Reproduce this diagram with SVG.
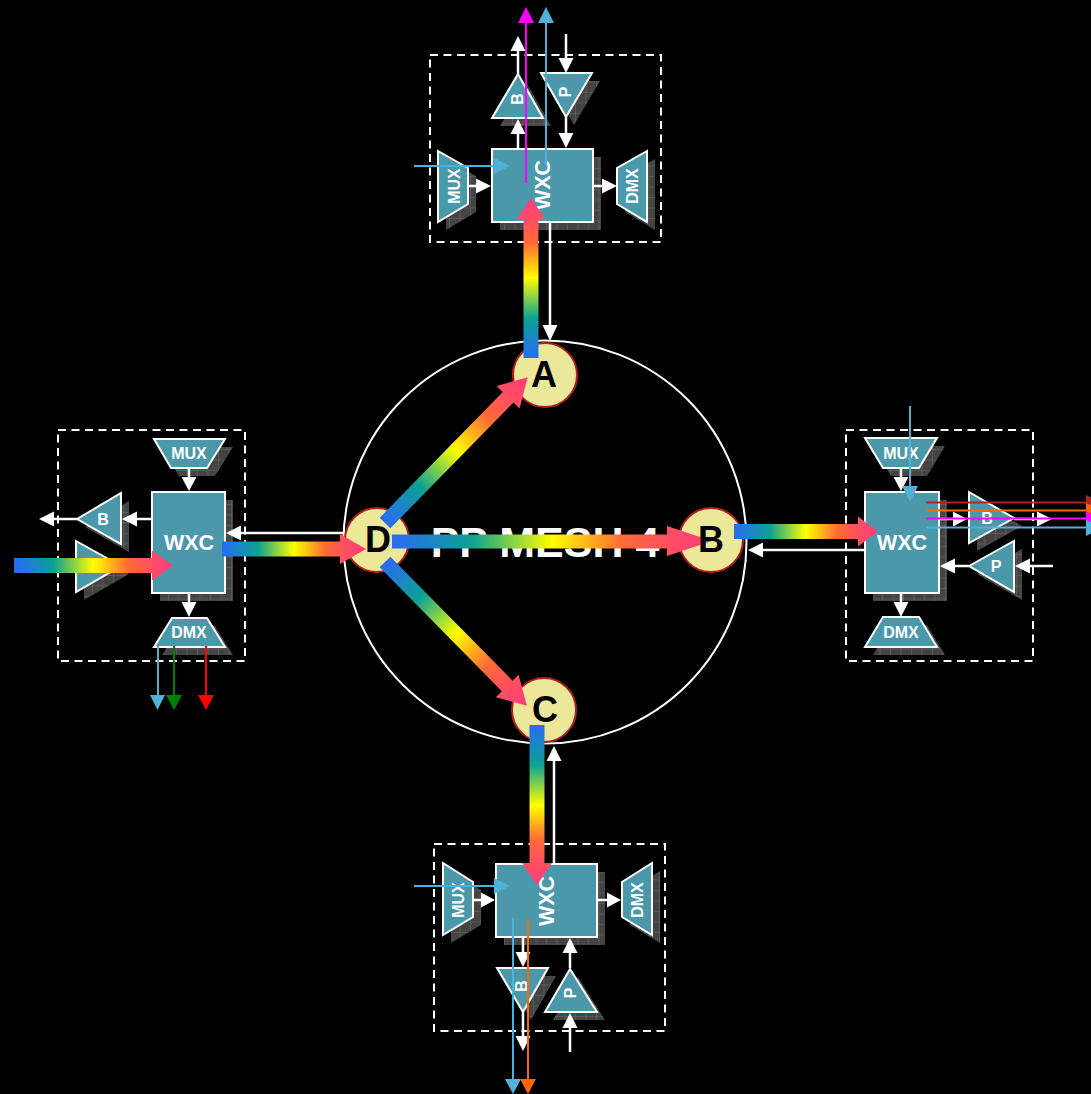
<svg xmlns="http://www.w3.org/2000/svg" width="1091" height="1094" viewBox="0 0 1091 1094">
<style>
text{font-family:"Liberation Sans",Arial,sans-serif;font-weight:bold;text-anchor:middle}
.box{fill:none;stroke:#fff;stroke-width:2;stroke-dasharray:8 5.5}
.sh{fill:url(#grid)}
.s{fill:#4b98ab;stroke:#fff;stroke-width:2;stroke-linejoin:miter}
.t{fill:#fff;font-size:16px}
.w{fill:#fff;font-size:21.5px}
.l{fill:#000;font-size:36px}
.wl{stroke:#fff;stroke-width:2.5;fill:none}
.wh{fill:#fff}
.cl{stroke-width:2;fill:none}
.r{fill:url(#rb)}
.n{fill:#ece89a;stroke:#b02020;stroke-width:2}
</style>
<defs>
<pattern id="grid" width="10.5" height="10.5" patternUnits="userSpaceOnUse">
<rect width="10.5" height="10.5" fill="#444"/>
<path d="M0 0H10.5M0 0V10.5" stroke="#6e6e6e" stroke-width="1"/>
</pattern>
<linearGradient id="rb" x1="0" y1="0" x2="1" y2="0">
<stop offset="0" stop-color="#2a6af5"/>
<stop offset=".25" stop-color="#0ca292"/>
<stop offset=".5" stop-color="#ffff00"/>
<stop offset=".72" stop-color="#ff6a36"/>
<stop offset=".86" stop-color="#ff5060"/>
<stop offset="1" stop-color="#ff3a80"/>
</linearGradient>
</defs>
<rect width="1091" height="1094" fill="#000"/>
<circle id="ring" cx="545" cy="542" r="201.500" fill="none" stroke="#fff" stroke-width="2"/>
<text id="title" x="545" y="557" fill="#fff" style="font-size:43px">PP MESH 4</text>

<g id="node-top">
<rect class="box" x="430" y="55" width="231" height="187"/>
<polygon class="sh" transform="translate(8,8)" points="438,151 468,168 468,204 438,222"/>
<polygon class="sh" transform="translate(8,8)" points="647,151 617,168 617,204 647,222"/>
<polygon class="sh" transform="translate(8,8)" points="518,74 492,118 543,118"/>
<polygon class="sh" transform="translate(8,8)" points="541,73 592,73 566,117"/>
<rect class="sh" x="500" y="157" width="101" height="73"/>
<rect class="s" x="492" y="149" width="101" height="73"/>
<polygon class="s" points="438,151 468,168 468,204 438,222"/>
<polygon class="s" points="647,151 617,168 617,204 647,222"/>
<polygon class="s" points="518,74 492,118 543,118"/>
<polygon class="s" points="541,73 592,73 566,117"/>
<text class="w" transform="translate(542,185) rotate(-90)" dy=".36em">WXC</text>
<text class="t" transform="translate(454,186) rotate(-90)" dy=".36em">MUX</text>
<text class="t" transform="translate(632,186) rotate(-90)" dy=".36em">DMX</text>
<text class="t" transform="translate(517,99) rotate(-90)" dy=".36em">B</text>
<text class="t" transform="translate(565,92) rotate(-90)" dy=".36em">P</text>
</g>

<g id="node-left">
<rect class="box" x="58" y="430" width="187" height="231"/>
<polygon class="sh" transform="translate(8,8)" points="154,439 225,439 207,468 171,468"/>
<polygon class="sh" transform="translate(8,8)" points="172,618 207,618 225,647 154,647"/>
<polygon class="sh" transform="translate(8,8)" points="77,519 121,493 121,544"/>
<polygon class="sh" transform="translate(8,8)" points="76,541 121,566 76,592"/>
<rect class="sh" x="160" y="500" width="73" height="101"/>
<rect class="s" x="152" y="492" width="73" height="101"/>
<polygon class="s" points="154,439 225,439 207,468 171,468"/>
<polygon class="s" points="172,618 207,618 225,647 154,647"/>
<polygon class="s" points="77,519 121,493 121,544"/>
<polygon class="s" points="76,541 121,566 76,592"/>
<text class="w" x="189" y="542" dy=".36em">WXC</text>
<text class="t" x="189" y="453" dy=".36em">MUX</text>
<text class="t" x="189" y="632" dy=".36em">DMX</text>
<text class="t" x="103" y="519" dy=".36em">B</text>
</g>

<g id="node-right">
<rect class="box" x="846" y="430" width="187" height="231"/>
<polygon class="sh" transform="translate(8,8)" points="865,438 937,438 919,468 883,468"/>
<polygon class="sh" transform="translate(8,8)" points="883,617 919,617 937,647 865,647"/>
<polygon class="sh" transform="translate(8,8)" points="969,492 1014,518 969,543"/>
<polygon class="sh" transform="translate(8,8)" points="969,566 1014,541 1014,592"/>
<rect class="sh" x="873" y="500" width="74" height="101"/>
<rect class="s" x="865" y="492" width="74" height="101"/>
<polygon class="s" points="865,438 937,438 919,468 883,468"/>
<polygon class="s" points="883,617 919,617 937,647 865,647"/>
<polygon class="s" points="969,492 1014,518 969,543"/>
<polygon class="s" points="969,566 1014,541 1014,592"/>
<text class="w" x="902" y="542" dy=".36em">WXC</text>
<text class="t" x="901" y="453" dy=".36em">MUX</text>
<text class="t" x="901" y="632" dy=".36em">DMX</text>
<text class="t" x="987" y="518" dy=".36em">B</text>
<text class="t" x="996" y="566" dy=".36em">P</text>
</g>

<g id="node-bottom">
<rect class="box" x="434" y="844" width="231" height="187"/>
<polygon class="sh" transform="translate(8,8)" points="443,863 473,882 473,917 443,935"/>
<polygon class="sh" transform="translate(8,8)" points="652,863 622,882 622,917 652,935"/>
<polygon class="sh" transform="translate(8,8)" points="497,968 548,968 523,1012"/>
<polygon class="sh" transform="translate(8,8)" points="570,969 545,1012 597,1012"/>
<rect class="sh" x="504" y="872" width="101" height="73"/>
<rect class="s" x="496" y="864" width="101" height="73"/>
<polygon class="s" points="443,863 473,882 473,917 443,935"/>
<polygon class="s" points="652,863 622,882 622,917 652,935"/>
<polygon class="s" points="497,968 548,968 523,1012"/>
<polygon class="s" points="570,969 545,1012 597,1012"/>
<text class="w" transform="translate(546,901) rotate(-90)" dy=".36em">WXC</text>
<text class="t" transform="translate(458,900) rotate(-90)" dy=".36em">MUX</text>
<text class="t" transform="translate(637,900) rotate(-90)" dy=".36em">DMX</text>
<text class="t" transform="translate(521,986) rotate(-90)" dy=".36em">B</text>
<text class="t" transform="translate(570,993) rotate(-90)" dy=".36em">P</text>
</g>

<g id="node-A"><circle class="n" cx="545" cy="375" r="32"/></g>
<g id="node-B"><circle class="n" cx="711" cy="540" r="32"/></g>
<g id="node-C"><circle class="n" cx="544" cy="710" r="32"/></g>
<g id="node-D"><circle class="n" cx="377" cy="540" r="32"/></g>

<g id="connectors">
<path class="wl" d="M518 149V130M518 74V48M566 34V60M566 117V135M468 186H478M593 186H604M550 222V327"/>
<polygon class="wh" points="518,119 510.500,134 525.500,134"/>
<polygon class="wh" points="518,36 510.500,51 525.500,51"/>
<polygon class="wh" points="566,73 558.500,58 573.500,58"/>
<polygon class="wh" points="566,148 558.500,133 573.500,133"/>
<polygon class="wh" points="491,186 476,178.500 476,193.500"/>
<polygon class="wh" points="617,186 602,178.500 602,193.500"/>
<polygon class="wh" points="550,341 542.500,325 557.500,325"/>
<path class="wl" d="M152 519H135M77 519H52M189 468V480M189 593V605M121 566H152M343 533H240"/>
<polygon class="wh" points="122,519 137,511.500 137,526.500"/>
<polygon class="wh" points="39,519 54,511.500 54,526.500"/>
<polygon class="wh" points="189,491 181.500,477 196.500,477"/>
<polygon class="wh" points="189,617 181.500,602 196.500,602"/>
<polygon class="wh" points="226,533 241,525.500 241,540.500"/>
<path class="wl" d="M901 468V480M901 593V605M939 519H955M1014 519H1040M1053 566H1028M969 566H953M865 550H761"/>
<polygon class="wh" points="901,491 893.500,477 908.500,477"/>
<polygon class="wh" points="901,617 893.500,602 908.500,602"/>
<polygon class="wh" points="967,519 953,511.500 953,526.500"/>
<polygon class="wh" points="1052,519 1037,511.500 1037,526.500"/>
<polygon class="wh" points="1015,566 1030,558.500 1030,573.500"/>
<polygon class="wh" points="940,566 955,558.500 955,573.500"/>
<polygon class="wh" points="748,550 763,542.500 763,557.500"/>
<path class="wl" d="M473 900H483M597 900H609M523 937V954M523 1012V1038M570 968V951M570 1052V1026M554 864V759"/>
<polygon class="wh" points="495,900 481,892.500 481,907.500"/>
<polygon class="wh" points="621,900 607,892.500 607,907.500"/>
<polygon class="wh" points="523,967 515.500,952 530.500,952"/>
<polygon class="wh" points="523,1051 515.500,1036 530.500,1036"/>
<polygon class="wh" points="570,938 562.500,953 577.500,953"/>
<polygon class="wh" points="570,1013 562.500,1028 577.500,1028"/>
<polygon class="wh" points="554,746 546.500,761 561.500,761"/>
<path class="r" transform="translate(531,358) rotate(-90)" d="M0-7.500H138V-15L160 0 138 15V7.500H0Z"/>
<path class="r" transform="translate(537,725) rotate(90)" d="M0-7.500H138V-15L160 0 138 15V7.500H0Z"/>
<path class="r" transform="translate(14,565.500)" d="M0-7.500H138V-15L159 0 138 15V7.500H0Z"/>
<path class="r" transform="translate(222,549)" d="M0-7.500H118V-15L144 0 118 15V7.500H0Z"/>
<path class="r" transform="translate(734,531.500)" d="M0-7.500H124V-15L144 0 124 15V7.500H0Z"/>
<path class="r" d="M392 534.500H667V526L712 541 667 556V548.500H392Z"/>
<path class="r" transform="translate(385,523) rotate(-45.600)" d="M0-7.500H176V-16L204 0 176 16V7.500H0Z"/>
<path class="r" transform="translate(385,562) rotate(45.400)" d="M0-7.500H174V-16L202 0 174 16V7.500H0Z"/>
<g class="cl">
<path stroke="#4fb0d8" d="M414 166H496M546 165V22M414 886H496M513 918V1080M910 406V488M926 527.500H1088M158 646V696"/>
<path stroke="#ff00ff" d="M526 183V22M926 518.500H1088"/>
<path stroke="#ff6600" d="M528 918V1080M926 510.500H1088"/>
<path stroke="#b22222" d="M926 502.500H1088"/>
<path stroke="#008000" d="M174 646V696"/>
<path stroke="#ff0000" d="M206 646V696"/>
</g>
<polygon fill="#4fb0d8" points="510,166 494,158 494,174"/>
<polygon fill="#4fb0d8" points="546,7 538,23 554,23"/>
<polygon fill="#ff00ff" points="526,7 518,23 534,23"/>
<polygon fill="#4fb0d8" points="510,886 494,878 494,894"/>
<polygon fill="#4fb0d8" points="513,1094 505,1079 521,1079"/>
<polygon fill="#ff6600" points="528,1094 520,1079 536,1079"/>
<polygon fill="#4fb0d8" points="910,502 902,486 918,486"/>
<polygon fill="#4fb0d8" points="157.500,710 150,695 165,695"/>
<polygon fill="#008000" points="174,710 166,695 182,695"/>
<polygon fill="#ff0000" points="206,710 198,695 214,695"/>
<polygon fill="#b22222" points="1086,495 1086,511 1102,503"/>
<polygon fill="#ff6600" points="1086,503 1086,519 1102,511"/>
<polygon fill="#ff00ff" points="1086,511 1086,527 1102,519"/>
<polygon fill="#4fb0d8" points="1086,520 1086,536 1102,528"/>
</g>

<g id="node-labels">
<text class="l" x="544" y="374" dy=".36em">A</text>
<text class="l" x="711" y="539" dy=".36em">B</text>
<text class="l" x="545" y="709" dy=".36em">C</text>
<text class="l" x="378" y="539" dy=".36em">D</text>
</g>
</svg>
